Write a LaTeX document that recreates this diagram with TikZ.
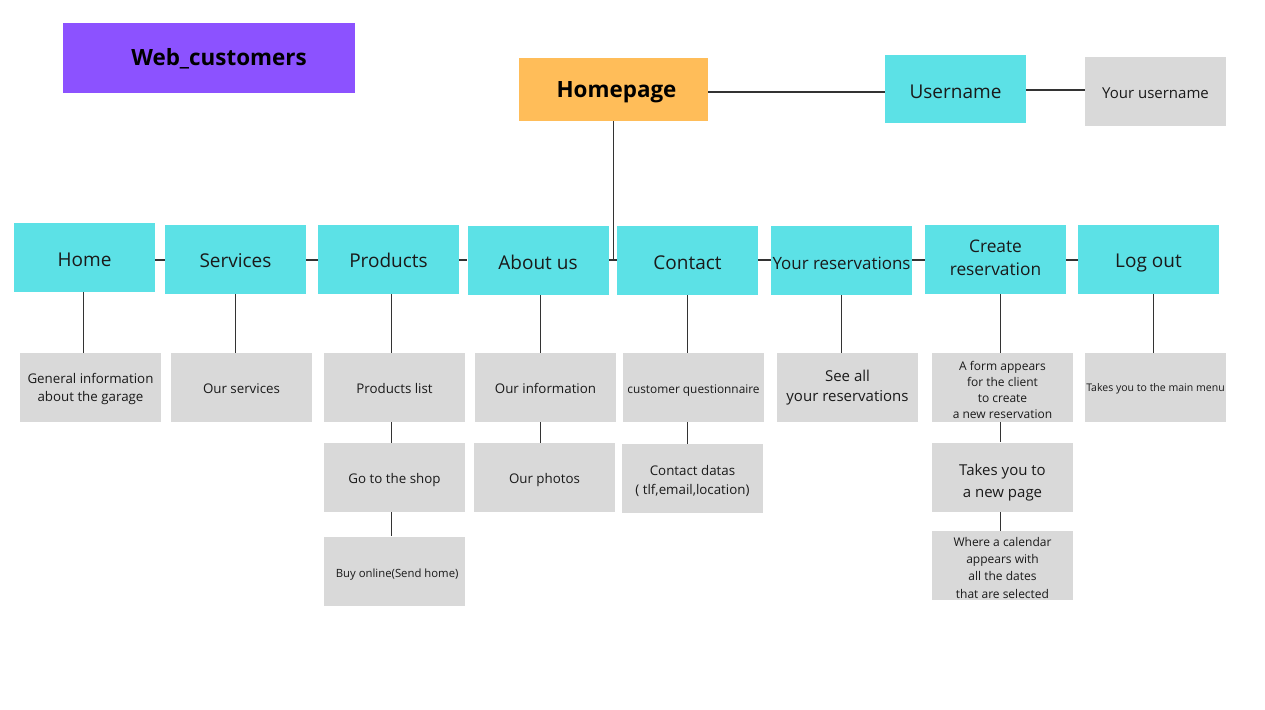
\documentclass[tikz,border=0pt]{standalone}
\usepackage{fontspec}
\setmainfont{Open Sans}
\usetikzlibrary{backgrounds}
\definecolor{cyanc}{HTML}{5CE1E6}
\definecolor{greyc}{HTML}{D9D9D9}
\definecolor{purplec}{HTML}{8C52FF}
\definecolor{orangec}{HTML}{FFBD59}
\definecolor{linec}{HTML}{333333}
\definecolor{textc}{HTML}{1A1A1A}
\newcommand{\fs}[2]{\fontsize{#1}{#2}\selectfont}
\begin{document}
\begin{tikzpicture}[x=0.75pt,y=-0.75pt,
  box/.style={inner sep=0pt, align=center, text=textc, text depth=0pt},
  cbox/.style={box, fill=cyanc, minimum width=105.75pt, minimum height=51.75pt, font=\fs{14.25}{18}, text height=13.2pt},
  gbox/.style={box, fill=greyc, minimum width=105.75pt, minimum height=51.75pt, font=\fs{10}{13.5}, text height=8.64pt},
  conn/.style={draw=linec, line width=0.9pt}]
\useasboundingbox (0,0) rectangle (1265,710);

% top
\node[box, fill=purplec, minimum width=219pt, minimum height=52.5pt, text=black, font=\fs{16.8}{20}\bfseries, text height=11.25pt] (title) at (209,58) {\hspace*{15pt}Web\_customers};
\node[box, fill=orangec, minimum width=141.75pt, minimum height=47.25pt, text=black, font=\fs{16.8}{20}\bfseries, text height=12.75pt] (homepage) at (613.5,89.5) {\hspace*{4.5pt}Homepage};
\node[cbox, minimum height=51pt, text height=14.7pt] (username) at (955.5,89) {Username};
\node[gbox, font=\fs{11.25}{14}, text height=9.5pt] (yourusername) at (1155.5,92) {Your username};

% cyan row
\node[cbox] (home) at (84.5,257.5) {Home};
\node[cbox] (services) at (235.5,259) {Services};
\node[cbox] (products) at (388.5,259) {Products};
\node[cbox] (about) at (538,260.5) {About us};
\node[cbox] (contact) at (687.5,260.5) {Contact};
\node[cbox, font=\fs{12.7}{16}, text height=12.8pt] (yourres) at (841.5,260.5) {Your reservations};
\node[cbox, font=\fs{13}{17.5}, text height=24.6pt] (create) at (995.5,259) {Create\\reservation};
\node[cbox] (logout) at (1148.5,259) {Log out};

% grey row 1
\node[gbox, text height=20.64pt] (geninfo) at (90.5,387.5) {General information\\about the garage};
\node[gbox] (ourservices) at (241.5,387.5) {Our services};
\node[gbox] (plist) at (394.5,387.5) {Products list};
\node[gbox] (ourinfo) at (545.5,387.5) {Our information};
\node[gbox, font=\fs{8.9}{12}, text height=8.6pt] (quest) at (693.5,387.5) {customer questionnaire};
\node[gbox, font=\fs{11.25}{15.5}, text height=21.3pt] (seeall) at (847.5,387.5) {See all\\your reservations};
\node[gbox, font=\fs{9}{12}, text height=46.2pt] (form) at (1002.5,387.5) {A form appears\\for the client\\to create\\a new reservation};
\node[gbox, font=\fs{7.9}{10}, text height=5.64pt] (mainmenu) at (1155.5,387.5) {Takes you to the main menu};

% grey row 2
\node[gbox, text height=9.4pt] (shop) at (394.5,477.5) {Go to the shop};
\node[gbox, text height=9.4pt] (photos) at (544.5,477.5) {Our photos};
\node[gbox, font=\fs{10}{14.25}, text height=23.6pt] (cdatas) at (692.5,478.5) {Contact datas\\( tlf,email,location)};
\node[gbox, font=\fs{11.25}{16}, text height=30pt] (newpage) at (1002.5,477) {Takes you to\\a new page};

% grey row 3
\node[gbox, font=\fs{8.5}{12}, text height=9.1pt] (buy) at (394.5,571) {\hspace*{4pt}Buy online(Send home)};
\node[gbox, font=\fs{9}{13}, text height=49.2pt] (calendar) at (1002.5,565.5) {Where a calendar\\appears with\\all the dates\\that are selected};

% connector levels
\coordinate (rowline) at (613,260);
\coordinate (userline) at (800,92);
\coordinate (unameline) at (1050,90);

\begin{scope}[on background layer]
\draw[conn] (homepage.east |- userline) -- (username.west |- userline);
\draw[conn] (username.east |- unameline) -- (yourusername.west |- unameline);
\draw[conn] (homepage.south) -- (homepage.south |- rowline);
\draw[conn] (home.east |- rowline) -- (services.west |- rowline);
\draw[conn] (services.east |- rowline) -- (products.west |- rowline);
\draw[conn] (products.east |- rowline) -- (about.west |- rowline);
\draw[conn] (about.east |- rowline) -- (contact.west |- rowline);
\draw[conn] (contact.east |- rowline) -- (yourres.west |- rowline);
\draw[conn] (yourres.east |- rowline) -- (create.west |- rowline);
\draw[conn] (create.east |- rowline) -- (logout.west |- rowline);
\draw[conn] ([xshift=-1pt]home.south) -- ([xshift=-1pt]home.south |- geninfo.north);
\draw[conn] (services.south) -- (services.south |- ourservices.north);
\draw[conn] ([xshift=2pt]products.south) -- ([xshift=2pt]products.south |- plist.north);
\draw[conn] ([xshift=2pt]products.south |- plist.south) -- ([xshift=2pt]products.south |- shop.north);
\draw[conn] ([xshift=2pt]products.south |- shop.south) -- ([xshift=2pt]products.south |- buy.north);
\draw[conn] ([xshift=2pt]about.south) -- ([xshift=2pt]about.south |- ourinfo.north);
\draw[conn] ([xshift=2pt]about.south |- ourinfo.south) -- ([xshift=2pt]about.south |- photos.north);
\draw[conn] (contact.south) -- (contact.south |- quest.north);
\draw[conn] (contact.south |- quest.south) -- (contact.south |- cdatas.north);
\draw[conn] (yourres.south) -- (yourres.south |- seeall.north);
\draw[conn] ([xshift=3.5pt]create.south) -- ([xshift=3.5pt]create.south |- form.north);
\draw[conn] ([xshift=3.5pt]create.south |- form.south) -- ([xshift=3.5pt]create.south |- newpage.north);
\draw[conn] ([xshift=3.5pt]create.south |- newpage.south) -- ([xshift=3.5pt]create.south |- calendar.north);
\draw[conn] ([xshift=4pt]logout.south) -- ([xshift=4pt]logout.south |- mainmenu.north);
\end{scope}
\end{tikzpicture}
\end{document}
